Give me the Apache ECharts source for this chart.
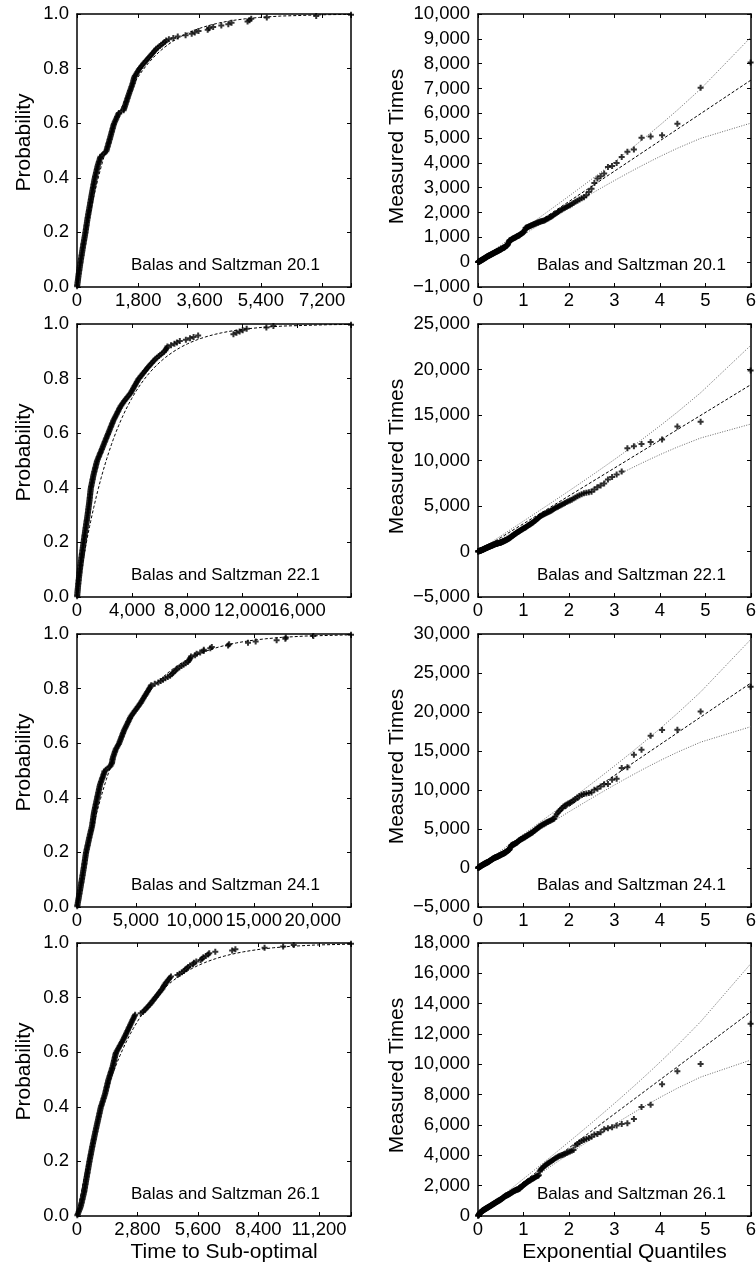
<!DOCTYPE html>
<html><head><meta charset="utf-8">
<script src="https://cdn.jsdelivr.net/npm/echarts@6/dist/echarts.min.js"></script>
<style>html,body{margin:0;padding:0;background:#fff}#c{width:756px;height:1263px}</style>
</head><body><div id="c"></div>
<script>
// ---------------- DATA ----------------
const panelLabels = ['Balas and Saltzman 20.1', 'Balas and Saltzman 22.1', 'Balas and Saltzman 24.1', 'Balas and Saltzman 26.1'];

// sorted measured times (200 runs each)
const timesA = [
3,8,14,19,24,29,34,39,44,50,
56,62,68,74,80,86,92,98,104,110,
116,123,130,137,143,150,156,162,169,175,
182,189,196,203,210,217,224,231,238,245,
251,257,263,269,275,281,287,293,299,305,
312,319,326,333,340,347,354,361,368,375,
382,389,396,403,410,417,424,431,438,445,
452,460,467,475,482,490,497,505,512,520,
529,538,548,557,567,576,586,595,605,615,
628,641,654,667,680,690,735,780,825,860,
872,884,895,907,918,930,941,952,964,975,
986,997,1008,1019,1030,1041,1052,1063,1074,1085,
1103,1121,1139,1157,1175,1193,1211,1230,1300,1370,
1383,1396,1409,1422,1435,1448,1461,1474,1487,1500,
1514,1528,1542,1556,1570,1584,1598,1612,1626,1640,
1650,1660,1670,1680,1700,1725,1750,1775,1798,1820,
1852,1884,1917,1950,1985,2020,2055,2090,2125,2160,
2194,2228,2262,2296,2330,2380,2430,2480,2530,2580,
2620,2700,2830,2960,3190,3370,3460,3570,3840,3880,
4000,4240,4446,4540,5011,5065,5119,5576,7028,8050];

const timesB = [
10,18,27,36,45,54,63,72,81,90,
101,112,123,134,145,156,167,178,189,200,
213,226,239,252,265,278,291,304,317,330,
344,358,372,386,400,414,428,442,456,470,
484,498,512,526,540,554,568,582,596,610,
625,640,655,670,685,700,715,730,745,760,
773,786,799,812,825,838,851,864,877,890,
901,912,923,934,945,956,967,978,989,1000,
1020,1040,1060,1080,1100,1120,1140,1160,1180,1200,
1225,1250,1275,1300,1325,1350,1375,1400,1425,1450,
1490,1530,1570,1610,1650,1690,1730,1770,1810,1850,
1890,1930,1970,2010,2050,2090,2130,2170,2210,2250,
2290,2330,2370,2410,2450,2490,2530,2570,2610,2650,
2700,2750,2800,2850,2900,2950,3000,3050,3100,3150,
3220,3290,3360,3430,3500,3580,3660,3740,3820,3900,
3955,4010,4065,4120,4175,4230,4285,4340,4395,4450,
4530,4610,4690,4770,4850,4930,5010,5090,5170,5250,
5340,5430,5520,5610,5700,5820,5940,6060,6180,6300,
6400,6450,6510,6560,6820,7070,7250,7460,7900,8200,
8460,8790,11350,11570,11800,12020,12310,13740,14250,19880];

const timesC = [
20,40,60,80,100,120,140,160,180,200,
220,240,260,280,300,320,340,360,380,400,
419,438,457,476,495,514,533,552,571,590,
607,624,641,658,675,692,709,726,743,760,
785,810,835,860,885,910,935,960,985,1010,
1037,1064,1091,1118,1145,1172,1199,1226,1253,1280,
1297,1314,1331,1348,1365,1382,1399,1416,1433,1450,
1475,1500,1525,1550,1575,1600,1625,1650,1675,1700,
1725,1750,1775,1800,1825,1850,1875,1900,1925,1950,
1990,2030,2070,2110,2150,2190,2230,2270,2310,2340,
2450,2600,2750,2850,2920,2960,2985,3005,3025,3050,
3090,3130,3170,3210,3250,3290,3355,3420,3485,3550,
3595,3640,3685,3730,3775,3820,3865,3910,3955,4000,
4056,4112,4168,4224,4280,4336,4392,4448,4504,4560,
4644,4728,4812,4896,4980,5064,5148,5232,5316,5400,
5470,5540,5610,5680,5750,5820,5890,5960,6030,6100,
6170,6240,6300,6600,6900,7100,7300,7500,7700,7900,
8020,8140,8260,8380,8500,8680,8860,9040,9220,9400,
9500,9560,9620,9670,10020,10150,10450,10750,10760,11310,
11440,12820,12910,14510,15160,16940,17680,17720,20050,23250];

const timesD = [
15,40,65,90,115,140,160,180,195,210,
225,240,255,270,285,300,315,330,340,350,
361,372,383,394,405,416,427,438,449,460,
471,482,493,504,515,526,537,548,559,570,
582,594,606,618,630,642,654,666,678,690,
703,716,729,742,755,768,781,794,807,820,
834,848,862,876,890,904,918,932,946,960,
974,988,1002,1016,1030,1044,1058,1072,1086,1100,
1120,1140,1160,1180,1200,1220,1240,1260,1280,1300,
1315,1330,1345,1360,1375,1390,1405,1420,1435,1450,
1470,1490,1510,1530,1550,1570,1590,1610,1630,1650,
1665,1680,1695,1710,1725,1740,1755,1770,1785,1800,
1835,1870,1905,1940,1975,2010,2045,2080,2115,2150,
2180,2210,2240,2270,2300,2330,2360,2390,2420,2450,
2480,2510,2540,2570,2600,2630,2660,2690,2950,3050,
3110,3170,3230,3290,3350,3400,3450,3500,3550,3600,
3650,3700,3750,3800,3850,3900,3950,3985,4020,4050,
4100,4150,4200,4250,4300,4350,4650,4750,4850,4950,
5010,5080,5150,5230,5370,5410,5520,5720,5790,5850,
5960,6070,6120,6400,7180,7330,8680,9540,10030,12680];

// fitted shifted exponential: [location, scale]
const fitParams = [[0, 1223], [0, 3057], [0, 3955], [0, 2245]];

// axes
const leftXMax = [8050, 19880, 23250, 12680];
const leftXInterval = [1800, 4000, 5000, 2800];
const rightYMin = [-1000, -5000, -5000, 0];
const rightYMax = [10000, 25000, 30000, 18000];
const rightYInterval = [1000, 5000, 5000, 2000];
const quantileMax = 6;

const axisNames = {leftY: 'Probability', rightY: 'Measured Times', leftX: 'Time to Sub-optimal', rightX: 'Exponential Quantiles'};

// ---------------- LAYOUT ----------------
const rowTops = [14, 324, 634, 943];
const rowH = 273;
const colLeft = [77, 478];
const colW = [274, 273];
const FONT = '"Liberation Sans", Arial, Helvetica, sans-serif';

function fmt(v) {
  const neg = v < 0;
  let s = Math.round(Math.abs(v)).toString().replace(/\B(?=(\d{3})+(?!\d))/g, ',');
  return (neg ? '\u2212' : '') + s;
}
function onTick(v, iv) { return Math.abs(v / iv - Math.round(v / iv)) < 1e-6; }

const plusSym = 'path://M2,0H4V2H6V4H4V6H2V4H0V2H2Z';
const datasets = [timesA, timesB, timesC, timesD];

const option = {
  animation: false,
  backgroundColor: '#fff',
  textStyle: {fontFamily: FONT, color: '#000'},
  grid: [], xAxis: [], yAxis: [], series: [], graphic: []
};

function addAxes(g, xCfg, yCfg) {
  const line = {show: true, onZero: false, lineStyle: {color: '#000', width: 1.5}};
  const tick = {show: true, inside: true, length: 4, lineStyle: {color: '#000', width: 1}};
  option.xAxis.push(Object.assign({gridIndex: g, type: 'value', position: 'bottom', axisLine: line, axisTick: tick, splitLine: {show: false},
    axisLabel: {color: '#000', fontSize: 18.5, fontFamily: FONT, margin: 4, formatter: xCfg.formatter}}, xCfg.extra));
  option.xAxis.push({gridIndex: g, type: 'value', position: 'top', min: xCfg.extra.min, max: xCfg.extra.max, interval: xCfg.extra.interval,
    axisLine: line, axisTick: tick, axisLabel: {show: false}, splitLine: {show: false}});
  option.yAxis.push(Object.assign({gridIndex: g, type: 'value', position: 'left', axisLine: line, axisTick: tick, splitLine: {show: false},
    axisLabel: {color: '#000', fontSize: 18.5, fontFamily: FONT, margin: 8, formatter: yCfg.formatter}}, yCfg.extra));
  option.yAxis.push({gridIndex: g, type: 'value', position: 'right', min: yCfg.extra.min, max: yCfg.extra.max, interval: yCfg.extra.interval,
    axisLine: line, axisTick: tick, axisLabel: {show: false}, splitLine: {show: false}});
}

for (let r = 0; r < 4; r++) {
  const t = datasets[r];
  const n = t.length;
  const p = t.map((_, i) => (i + 0.5) / n);
  const q = p.map(v => -Math.log(1 - v));
  const [mu, lam] = fitParams[r];
  const isLast = r === 3;

  for (let c = 0; c < 2; c++) {
    const g = r * 2 + c;
    option.grid.push({left: colLeft[c], top: rowTops[r], width: colW[c], height: rowH, containLabel: false, outerBoundsMode: 'none'});
    const nameStyleX = {fontSize: 21, color: '#000', fontFamily: FONT, padding: [0, 0, 0, 20]};
    if (c === 0) {
      const iv = leftXInterval[r];
      addAxes(g,
        {formatter: v => onTick(v, iv) ? fmt(v) : '',
         extra: Object.assign({min: 0, max: leftXMax[r], interval: iv},
           isLast ? {name: axisNames.leftX, nameLocation: 'middle', nameGap: 26, nameTextStyle: nameStyleX} : {})},
        {formatter: v => v.toFixed(1),
         extra: {min: 0, max: 1, interval: 0.2, name: axisNames.leftY, nameLocation: 'middle', nameGap: 42,
           nameTextStyle: {fontSize: 21, color: '#000', fontFamily: FONT, padding: [0, 0, 0, 16]}}});
      // fitted CDF
      const fitCurve = [[0, 0]].concat(q.map((qq, i) => [mu + lam * qq, p[i]]));
      fitCurve.push([leftXMax[r], 1 - Math.exp(-(leftXMax[r] - mu) / lam)]);
      option.series.push({type: 'line', xAxisIndex: 2 * g, yAxisIndex: 2 * g, data: fitCurve, showSymbol: false, symbol: 'none',
        lineStyle: {color: '#000', width: 1, type: [3, 2]}, z: 2});
      option.series.push({type: 'scatter', xAxisIndex: 2 * g, yAxisIndex: 2 * g, data: t.map((v, i) => [v, p[i]]),
        symbol: plusSym, symbolSize: 6, itemStyle: {color: '#000'}, z: 3});
    } else {
      const yiv = rightYInterval[r];
      addAxes(g,
        {formatter: v => fmt(v),
         extra: Object.assign({min: 0, max: quantileMax, interval: 1},
           isLast ? {name: axisNames.rightX, nameLocation: 'middle', nameGap: 26, nameTextStyle: nameStyleX} : {})},
        {formatter: v => fmt(v),
         extra: {min: rightYMin[r], max: rightYMax[r], interval: yiv, name: axisNames.rightY, nameLocation: 'middle', nameGap: 70,
           nameTextStyle: {fontSize: 21, color: '#000', fontFamily: FONT, padding: [0, 0, 0, 8]}}});
      // bands (+/- one standard deviation of the order statistic)
      const up = [[0, mu]], lo = [[0, mu]];
      q.forEach((qq, i) => {
        const s = lam * Math.sqrt(p[i] / ((1 - p[i]) * n));
        up.push([qq, mu + lam * qq + s]);
        lo.push([qq, mu + lam * qq - s]);
      });
      const bandStyle = {color: '#6a6a6a', width: 1, type: [1, 1.5]};
      option.series.push({type: 'line', xAxisIndex: 2 * g, yAxisIndex: 2 * g, data: up, showSymbol: false, symbol: 'none', lineStyle: bandStyle, z: 1});
      option.series.push({type: 'line', xAxisIndex: 2 * g, yAxisIndex: 2 * g, data: lo, showSymbol: false, symbol: 'none', lineStyle: bandStyle, z: 1});
      option.series.push({type: 'line', xAxisIndex: 2 * g, yAxisIndex: 2 * g, data: [[0, mu], [quantileMax, mu + lam * quantileMax]],
        showSymbol: false, symbol: 'none', lineStyle: {color: '#000', width: 1, type: [3, 2]}, z: 2});
      option.series.push({type: 'scatter', xAxisIndex: 2 * g, yAxisIndex: 2 * g, data: t.map((v, i) => [q[i], v]),
        symbol: plusSym, symbolSize: 6, itemStyle: {color: '#000'}, z: 3});
    }
    option.graphic.push({type: 'text', left: c === 0 ? 131 : 537, top: rowTops[r] + rowH - 30,
      style: {text: panelLabels[r], font: '17px ' + FONT, fill: '#000'}});
  }
}

const chart = echarts.init(document.getElementById('c'), null, {renderer: 'canvas'});
chart.setOption(option);
</script>
</body></html>
